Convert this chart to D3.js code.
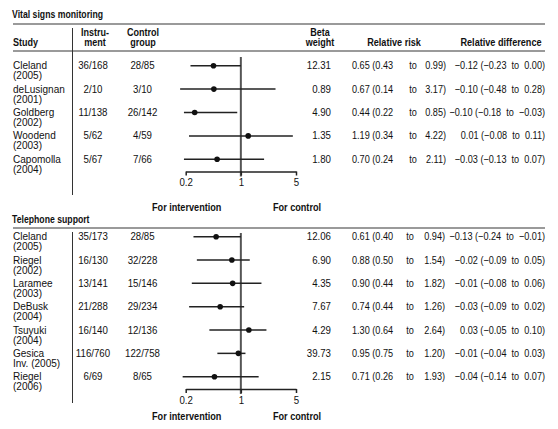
<!DOCTYPE html>
<html><head><meta charset="utf-8">
<script src="https://cdn.jsdelivr.net/npm/d3@7"></script>
<style>body{margin:0;background:#fff}svg{display:block}</style>
</head><body><svg id="c" width="558" height="429"></svg>
<script>
// ---------- DATA ----------
const vitalTitle = "Vital signs monitoring";
const vitalStudies = [["Cleland","(2005)"],["deLusignan","(2001)"],["Goldberg","(2002)"],["Woodend","(2003)"],["Capomolla","(2004)"]];
const vitalInstrument = ["36/168","2/10","11/138","5/62","5/67"];
const vitalControl = ["28/85","3/10","26/142","4/59","7/66"];
const vitalBeta = ["12.31","0.89","4.90","1.35","1.80"];
const vitalRR = [["0.65","0.43","0.99"],["0.67","0.14","3.17"],["0.44","0.22","0.85"],["1.19","0.34","4.22"],["0.70","0.24","2.11"]];
const vitalRD = [["\u22120.12","\u22120.23","0.00"],["\u22120.10","\u22120.48","0.28"],["\u22120.10","\u22120.18","\u22120.03"],["0.01","\u22120.08","0.11"],["\u22120.03","\u22120.13","0.07"]];
// marks as drawn in the picture
const vitalPoint = [0.45,0.455,0.26,1.24,0.50];
const vitalLower = [0.23,0.17,0.19,0.22,0.19];
const vitalUpper = [1.0,2.75,0.90,4.56,1.97];

const phoneTitle = "Telephone support";
const phoneStudies = [["Cleland","(2005)"],["Riegel","(2002)"],["Laramee","(2003)"],["DeBusk","(2004)"],["Tsuyuki","(2004)"],["Gesica","Inv. (2005)"],["Riegel","(2006)"]];
const phoneInstrument = ["35/173","16/130","13/141","21/288","16/140","116/760","6/69"];
const phoneControl = ["28/85","32/228","15/146","29/234","12/136","122/758","8/65"];
const phoneBeta = ["12.06","6.90","4.35","7.67","4.29","39.73","2.15"];
const phoneRR = [["0.61","0.40","0.94"],["0.88","0.50","1.54"],["0.90","0.44","1.82"],["0.74","0.44","1.26"],["1.30","0.64","2.64"],["0.95","0.75","1.20"],["0.71","0.26","1.93"]];
const phoneRD = [["\u22120.13","\u22120.24","\u22120.01"],["\u22120.02","\u22120.09","0.05"],["\u22120.01","\u22120.08","0.06"],["\u22120.03","\u22120.09","0.02"],["0.03","\u22120.05","0.10"],["\u22120.01","\u22120.04","0.03"],["\u22120.04","\u22120.14","0.07"]];
const phonePoint = [0.486,0.769,0.787,0.547,1.263,0.93,0.463];
const phoneLower = [0.251,0.277,0.239,0.221,0.399,0.504,0.183];
const phoneUpper = [1.0,1.297,1.824,1.101,2.11,1.144,1.681];

const axisTicks = [0.2, 1, 5];
const axisLabels = ["For intervention", "For control"];
const headers = {study:"Study", instr:["Instru-","ment"], ctrl:["Control","group"], beta:["Beta","weight"], rr:"Relative risk", rd:"Relative difference"};

// ---------- DRAW ----------
const svg = d3.select("#c");
const FONT = "'Liberation Sans', Arial, Helvetica, sans-serif";
const SX = 0.88, SXB = 0.83, SXN = 0.83;
function txt(g, s, x, y, opt = {}) {
  const bold = !!opt.bold;
  return g.append("text")
    .attr("transform", `translate(${x},${y}) scale(${opt.sx || (bold ? SXB : SX)},1)`)
    .attr("text-anchor", opt.anchor || "start")
    .attr("font-family", FONT)
    .attr("font-size", opt.size || 11)
    .attr("font-weight", bold ? "bold" : "normal")
    .attr("fill", "#111")
    .attr("xml:space", "preserve")
    .style("white-space", "pre")
    .text(s);
}

const x = d3.scaleLog().domain([0.2, 5]).range([185.7, 296]);

function panel(cfg) {
  const g = svg.append("g");
  const n = cfg.studies.length;
  const y = d3.scalePoint().domain(d3.range(n)).range([cfg.row0, cfg.row1]);

  txt(g, cfg.title, 12, cfg.titleY, {bold: true, sx: 0.79});
  g.append("rect").attr("x", 13).attr("width", 532).attr("y", cfg.ruleY - 1).attr("height", 2).attr("fill", "#9a9a9a");
  if (cfg.header) {
    const hy1 = cfg.ruleY + 11.5, hy2 = cfg.ruleY + 22, hs = 10.5, hsx = 0.86;
    txt(g, headers.study, 13, hy2, {bold: true, size: hs, sx: hsx});
    txt(g, headers.instr[0], 95, hy1, {bold: true, anchor: "middle", size: hs, sx: hsx});
    txt(g, headers.instr[1], 95, hy2, {bold: true, anchor: "middle", size: hs, sx: hsx});
    txt(g, headers.ctrl[0], 143, hy1, {bold: true, anchor: "middle", size: hs, sx: hsx});
    txt(g, headers.ctrl[1], 143, hy2, {bold: true, anchor: "middle", size: hs, sx: hsx});
    txt(g, headers.beta[0], 320, hy1, {bold: true, anchor: "middle", size: hs, sx: hsx});
    txt(g, headers.beta[1], 320, hy2, {bold: true, anchor: "middle", size: hs, sx: hsx});
    txt(g, headers.rr, 394, hy2, {bold: true, anchor: "middle"});
    txt(g, headers.rd, 501, hy2, {bold: true, anchor: "middle"});
    g.append("rect").attr("x", 13).attr("width", 532).attr("y", cfg.ruleY + 26).attr("height", 2).attr("fill", "#9a9a9a");
  }
  // column separator
  g.append("line").attr("x1", 72.5).attr("x2", 72.5).attr("y1", cfg.sepTop).attr("y2", cfg.sepBottom)
    .attr("stroke", "#333").attr("stroke-width", 1);

  // reference line at 1
  g.append("line").attr("x1", x(1)).attr("x2", x(1)).attr("y1", cfg.refTop).attr("y2", cfg.axisY + 5)
    .attr("stroke", "#555").attr("stroke-width", 2);

  // CI lines and points
  g.selectAll("line.ci").data(d3.range(n)).join("line").attr("class", "ci")
    .attr("x1", i => x(cfg.lower[i])).attr("x2", i => x(cfg.upper[i]))
    .attr("y1", i => y(i)).attr("y2", i => y(i))
    .attr("stroke", "#222").attr("stroke-width", 1.5);
  g.selectAll("circle.pt").data(d3.range(n)).join("circle").attr("class", "pt")
    .attr("cx", i => x(cfg.point[i])).attr("cy", i => y(i)).attr("r", 2.8).attr("fill", "#111");

  // table text
  d3.range(n).forEach(i => {
    const by = y(i) + 3.5;
    txt(g, cfg.studies[i][0], 13, by, {sx: 0.93, size: 10.8});
    txt(g, cfg.studies[i][1], 13, by + 10, {sx: 0.93, size: 10.8});
    txt(g, cfg.instr[i], 93, by, {anchor: "middle"});
    txt(g, cfg.ctrl[i], 142.5, by, {anchor: "middle"});
    txt(g, cfg.beta[i], 331, by, {anchor: "end"});
    const rr = cfg.rr[i], rd = cfg.rd[i];
    txt(g, `${rr[0]} (${rr[1]}`, 352, by, {sx: SXN});
    txt(g, "to", cfg.rrTo, by, {anchor: "middle", sx: SXN});
    txt(g, `${rr[2]})`, cfg.rrEnd, by, {anchor: "end", sx: SXN});
    txt(g, `${rd[0]} (${rd[1]}  to  ${rd[2]})`, 545, by, {anchor: "end", sx: SXN});
  });

  // axis
  const ax = g.append("g").attr("transform", `translate(0,${cfg.axisY})`)
    .call(d3.axisBottom(x).tickValues(axisTicks).tickFormat(d => String(d)).tickSize(4).tickSizeOuter(0));
  ax.select(".domain").attr("stroke", "#222").attr("stroke-width", 1.5);
  ax.selectAll(".tick line").attr("stroke", "#222").attr("stroke-width", 1.5);
  ax.selectAll(".tick text").attr("font-family", FONT).attr("font-size", 11).attr("fill", "#111")
    .attr("transform", `scale(${SX},1)`).attr("y", 7);
  txt(g, axisLabels[0], x(0.2) + 1, cfg.labY, {bold: true, anchor: "middle"});
  txt(g, axisLabels[1], x(5) + 1, cfg.labY, {bold: true, anchor: "middle"});
}

panel({title: vitalTitle, titleY: 18, ruleY: 24, header: true, sepTop: 28, sepBottom: 195, refTop: 57,
  row0: 65.7, row1: 159.3, axisY: 171.5, labY: 211, rrTo: 413, rrEnd: 446,
  studies: vitalStudies, instr: vitalInstrument, ctrl: vitalControl, beta: vitalBeta, rr: vitalRR, rd: vitalRD,
  point: vitalPoint, lower: vitalLower, upper: vitalUpper});

panel({title: phoneTitle, titleY: 223, ruleY: 228, header: false, sepTop: 232, sepBottom: 403, refTop: 233,
  row0: 236.7, row1: 376.7, axisY: 389, labY: 420, rrTo: 410, rrEnd: 445,
  studies: phoneStudies, instr: phoneInstrument, ctrl: phoneControl, beta: phoneBeta, rr: phoneRR, rd: phoneRD,
  point: phonePoint, lower: phoneLower, upper: phoneUpper});
</script>
</body></html>
